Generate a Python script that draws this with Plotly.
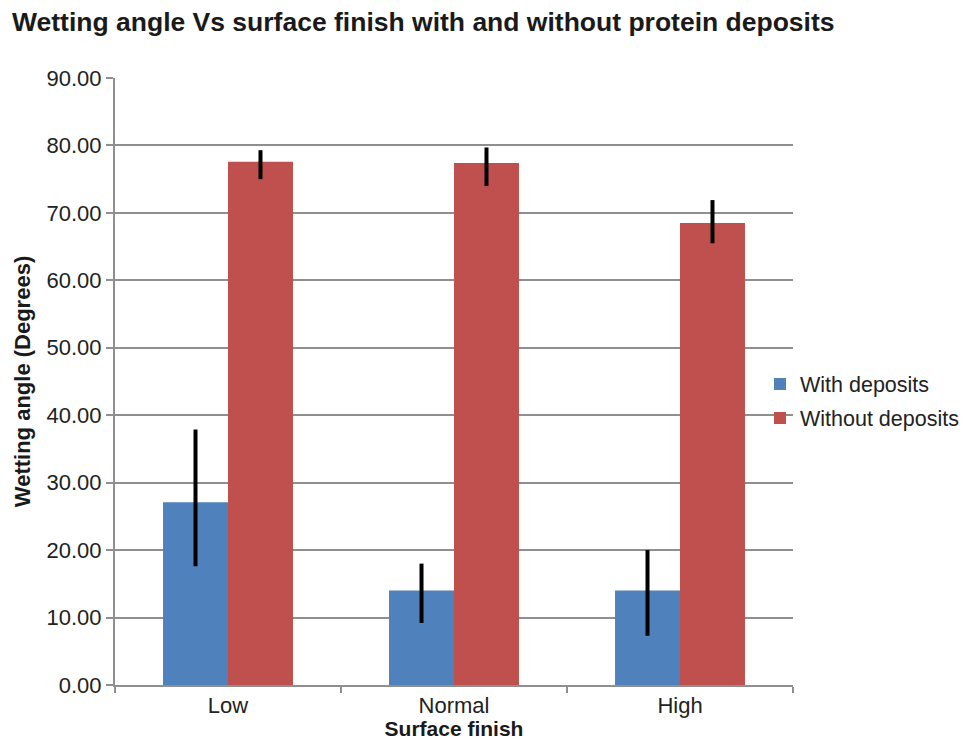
import plotly.graph_objects as go

categories = ["Low", "Normal", "High"]
with_deposits = [27.1, 14.0, 14.0]
with_err_plus = [10.8, 4.0, 6.0]
with_err_minus = [9.5, 4.8, 6.7]
without_deposits = [77.6, 77.4, 68.5]
without_err_plus = [1.7, 2.3, 3.4]
without_err_minus = [2.6, 3.4, 3.0]

FONT = "Liberation Sans, Arial, sans-serif"
GRID = "#8f8f8f"

fig = go.Figure()
fig.add_trace(go.Bar(
    name="With deposits", x=categories, y=with_deposits,
    marker=dict(color="#4f81bd", line=dict(width=0)),
    legendgroup="a",
    error_y=dict(type="data", symmetric=False, array=with_err_plus,
                 arrayminus=with_err_minus, color="black", thickness=4, width=0),
))
fig.add_trace(go.Bar(
    name="Without deposits", x=categories, y=without_deposits,
    marker=dict(color="#c0504d", line=dict(width=0)),
    legendgroup="b",
    error_y=dict(type="data", symmetric=False, array=without_err_plus,
                 arrayminus=without_err_minus, color="black", thickness=4, width=0),
))

fig.update_layout(
    width=969, height=740,
    margin=dict(l=115, r=176, t=78, b=55, autoexpand=False),
    paper_bgcolor="white", plot_bgcolor="white",
    barmode="group", bargap=0.425, bargroupgap=0,
    font=dict(family=FONT, size=22, color="#222222"),
    title=dict(text="<b>Wetting angle Vs surface finish with and without protein deposits</b>",
               x=12 / 969, xanchor="left", y=1 - 22 / 740, yanchor="middle",
               font=dict(family=FONT, size=26.5, color="#1a1a1a")),
    legend=dict(x=(760 - 115) / 678, xanchor="left", y=(685 - 401) / 607, yanchor="middle",
                bgcolor="rgba(0,0,0,0)", font=dict(size=21.5, color="#222222"),
                traceorder="grouped", tracegroupgap=3, itemwidth=30),
    xaxis=dict(
        title=dict(text="<b>Surface finish</b>", font=dict(size=21, color="#1a1a1a"), standoff=7),
        showline=True, linecolor=GRID, linewidth=2,
        ticks="outside", tickson="boundaries", ticklen=6, tickcolor=GRID, tickwidth=2,
        tickfont=dict(size=22), showgrid=False,
    ),
    yaxis=dict(
        title=dict(text="<b>Wetting angle (Degrees)</b>", font=dict(size=22, color="#1a1a1a"), standoff=10),
        range=[0, 90], dtick=10, tickformat=".2f",
        showline=True, linecolor=GRID, linewidth=2,
        ticks="outside", ticklen=7, tickcolor=GRID, tickwidth=2,
        showgrid=True, gridcolor=GRID, gridwidth=2,
        tickfont=dict(size=22), zeroline=False,
    ),
)

fig.write_html("out.html", config={"displayModeBar": False},
               post_script="document.body.style.margin='0';document.body.style.overflow='hidden';")
